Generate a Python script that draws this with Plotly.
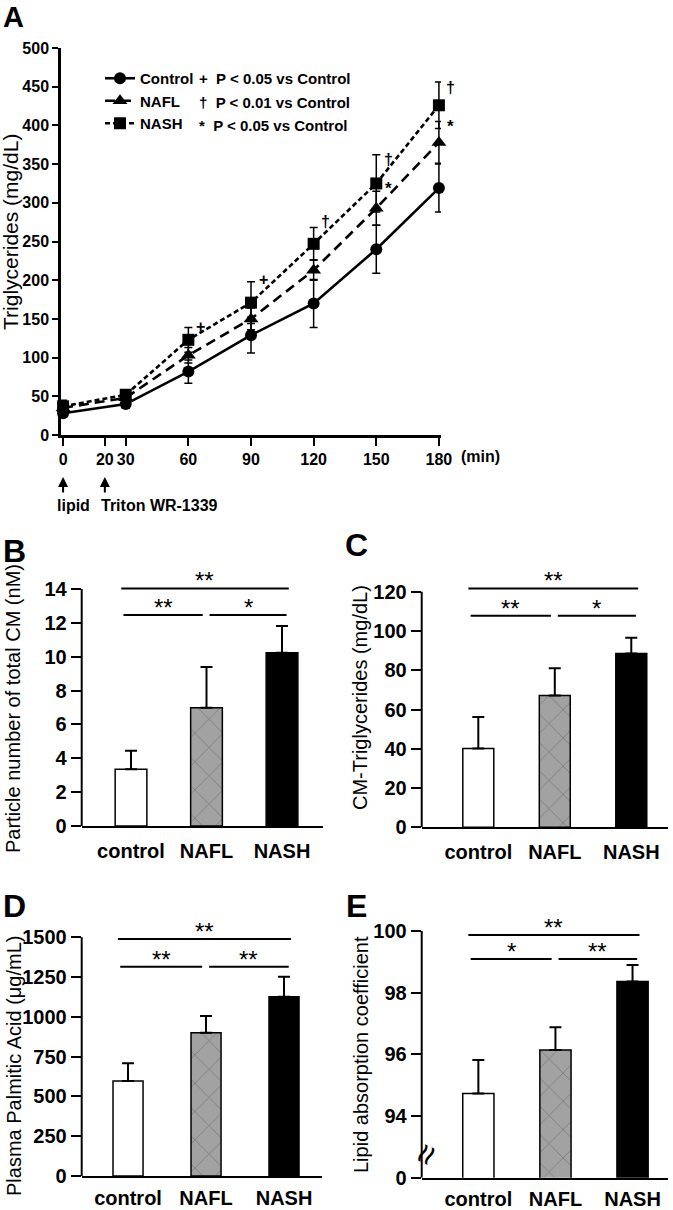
import plotly.graph_objects as go

W, H = 673, 1210
FONT = "Liberation Sans, Arial, Helvetica, sans-serif"

# ---------------- data ----------------
time_min = [0, 30, 60, 90, 120, 150, 180]
control_tg = [28, 40, 82, 129, 170, 240, 319]
control_err = [5, 5, 15, 23, 31, 31, 31]
nafl_tg = [35, 48, 103, 150, 213, 293, 378]
nafl_err = [5, 5, 10, 14, 13, 22, 27]
nash_tg = [37, 52, 123, 171, 247, 325, 426]
nash_err = [8, 6, 16, 27, 21, 37, 30]
series_names = ["Control", "NAFL", "NASH"]

a_xticks = [0, 20, 30, 60, 90, 120, 150, 180]
a_yticks = [0, 50, 100, 150, 200, 250, 300, 350, 400, 450, 500]

mark_time = [60, 90, 120, 150, 180, 150, 180]
mark_value = [140, 201, 276, 356, 449, 319, 398]
mark_text = ["+", "+", "†", "†", "†", "*", "*"]

legend_notes = ["+  P < 0.05 vs Control", "†  P < 0.01 vs Control", "*  P < 0.05 vs Control"]

groups = ["control", "NAFL", "NASH"]
cm_particle = [3.35, 6.99, 10.24]
cm_particle_sd = [1.10, 2.40, 1.57]
cm_tg = [40.2, 67.2, 88.6]
cm_tg_sd = [16.0, 13.8, 8.0]
palmitic = [597, 901, 1127]
palmitic_sd = [111, 105, 126]
lac = [94.73, 96.14, 98.36]
lac_sd = [1.09, 0.74, 0.54]

b_yticks = [0, 2, 4, 6, 8, 10, 12, 14]
c_yticks = [0, 20, 40, 60, 80, 100, 120]
d_yticks = [0, 250, 500, 750, 1000, 1250, 1500]
e_yticks = [92, 94, 96, 98, 100]
e_ticktext = ["0", "94", "96", "98", "100"]

b_sig = [14.03, 12.46]
c_sig = [121.7, 107.8]
d_sig = [1490, 1316]
e_sig = [99.87, 99.09]
b_stars = ["**", "**", "*"]
c_stars = ["**", "**", "*"]
d_stars = ["**", "**", "**"]
e_stars = ["**", "*", "**"]
sig_span_top = [-0.13, 2.09]
sig_span_left = [-0.10, 0.95]
sig_span_right = [1.04, 2.06]

bar_colors = ["white", "#a2a2a2", "black"]
bar_patterns = ["", "x", ""]


def px(x):
    return x / W


def py(y):
    return 1 - y / H


def bfont(size, bold=True):
    d = dict(family=FONT, size=size, color="black")
    if bold:
        d["weight"] = "bold"
    return d


def text_ann(x, y, text, size, bold=True, xanchor="center", angle=0):
    return dict(x=px(x), y=py(y), xref="paper", yref="paper", text=text,
                xanchor=xanchor, yanchor="middle", textangle=angle,
                showarrow=False, font=bfont(size, bold))


fig = go.Figure()

# ---------------- Panel A ----------------
styles = [
    dict(dash="solid", symbol="circle", size=12),
    dict(dash="10px,6px", symbol="triangle-up", size=13),
    dict(dash="5px,3px", symbol="square", size=12),
]
for name, vals, errs, st in zip(series_names, [control_tg, nafl_tg, nash_tg],
                                [control_err, nafl_err, nash_err], styles):
    fig.add_trace(go.Scatter(
        x=time_min, y=vals, name=name, mode="lines+markers",
        line=dict(color="black", width=2.6, dash=st["dash"]),
        marker=dict(color="black", size=st["size"], symbol=st["symbol"]),
        error_y=dict(type="data", array=errs, visible=True, color="black",
                     thickness=1.5, width=4),
        cliponaxis=False, xaxis="x", yaxis="y", showlegend=True,
    ))

fig.update_layout(
    xaxis=dict(domain=[px(61.0), px(441.0)], range=[-1, 181], anchor="y",
               tickvals=a_xticks, ticktext=[str(t) for t in a_xticks],
               ticks="outside", ticklen=8, tickwidth=2, tickcolor="black",
               showline=True, linecolor="black", linewidth=2.5,
               showgrid=False, zeroline=False, tickfont=bfont(16), automargin=False),
    yaxis=dict(domain=[py(435), py(48)], range=[0, 500], anchor="x",
               tickvals=a_yticks, ticks="outside", ticklen=6, tickwidth=2,
               tickcolor="black", showline=True, linecolor="black", linewidth=2.5,
               showgrid=False, zeroline=False, tickfont=bfont(16), automargin=False),
)

ann = []
for t, v, s in zip(mark_time, mark_value, mark_text):
    ann.append(dict(x=t, y=v, xref="x", yref="y", text=s, showarrow=False,
                    xanchor="center", yanchor="middle",
                    xshift=12, font=bfont(17 if s == "*" else 16)))

for i, note in enumerate(legend_notes):
    ann.append(text_ann(197, 78 + 24 * i, note, 15, xanchor="left"))

ann.append(text_ann(459, 457, "(min)", 16, xanchor="left"))
for t in [0, 20]:
    ann.append(dict(x=t, y=py(477), xref="x", yref="paper", text="", showarrow=True,
                    ax=0, ay=17, arrowhead=2, arrowsize=1, arrowwidth=2,
                    arrowcolor="black"))
ann.append(text_ann(73, 505, "lipid", 16))
ann.append(text_ann(99, 505, "Triton WR-1339", 16, xanchor="left"))
ann.append(text_ann(11, 232, "Triglycerides (mg/dL)", 21, bold=False, angle=-90))
ann.append(text_ann(13, 17, "A", 29))

# ---------------- Panels B-E ----------------
panels = [
    dict(ax=2, vals=cm_particle, sd=cm_particle_sd, yt=b_yticks, ytt=None,
         yr=[0, 15.5], ytop=14, ybot=0, xd=[81.7, 322.7], yd=[826, 563.6],
         xr=[-0.653, 2.539], bw=0.42, sig=b_sig, stars=b_stars, so=6,
         title="Particle number of total CM (nM)", tx=13, ty=709,
         letter="B", lx=14, ly=551),
    dict(ax=3, vals=cm_tg, sd=cm_tg_sd, yt=c_yticks, ytt=None,
         yr=[0, 132], ytop=120, ybot=0, xd=[421.7, 668], yd=[827.3, 568.2],
         xr=[-0.74, 2.48], bw=0.405, sig=c_sig, stars=c_stars, so=6,
         title="CM-Triglycerides (mg/dL)", tx=360, ty=698,
         letter="C", lx=356, ly=545),
    dict(ax=4, vals=palmitic, sd=palmitic_sd, yt=d_yticks, ytt=None,
         yr=[0, 1650], ytop=1500, ybot=0, xd=[81.7, 322], yd=[1176, 913.5],
         xr=[-0.594, 2.487], bw=0.385, sig=d_sig, stars=d_stars, so=3,
         title="Plasma Palmitic Acid (μg/mL)", tx=14, ty=1066,
         letter="D", lx=14, ly=906),
    dict(ax=5, vals=lac, sd=lac_sd, yt=e_yticks, ytt=e_ticktext,
         yr=[92, 100.9], ytop=100, ybot=92, xd=[421.7, 668], yd=[1177.7, 903.3],
         xr=[-0.735, 2.46], bw=0.405, sig=e_sig, stars=e_stars, so=2,
         title="Lipid absorption coefficient", tx=361, ty=1055,
         letter="E", lx=356, ly=906),
]

shapes = []
for p in panels:
    n = p["ax"]
    xa, ya = f"x{n}", f"y{n}"
    fig.add_trace(go.Bar(
        x=[0, 1, 2], y=p["vals"], width=p["bw"], xaxis=xa, yaxis=ya, showlegend=False,
        marker=dict(color=bar_colors, line=dict(color="black", width=1.5),
                    pattern=dict(shape=bar_patterns, fgcolor="#2a2a2a", size=20,
                                 solidity=0.07)),
        error_y=dict(type="data", symmetric=False, array=p["sd"], arrayminus=[0, 0, 0],
                     color="black", thickness=2, width=6),
    ))
    fig.layout[f"xaxis{n}"] = dict(
        domain=[px(p["xd"][0]), px(p["xd"][1])], range=p["xr"], anchor=ya,
        tickvals=[0, 1, 2], ticktext=groups, ticks="", showline=True,
        linecolor="black", linewidth=2, showgrid=False, zeroline=False,
        tickfont=bfont(20), automargin=False, ticklabelstandoff=p["so"])
    yax = dict(
        domain=[py(p["yd"][0]), py(p["yd"][1])], range=p["yr"], anchor=xa,
        tickvals=p["yt"], ticks="outside", ticklen=10, tickwidth=2, tickcolor="black",
        showline=False, showgrid=False, zeroline=False, tickfont=bfont(20),
        automargin=False)
    if p["ytt"] is not None:
        yax["ticktext"] = p["ytt"]
    fig.layout[f"yaxis{n}"] = yax
    # axis line up to top tick
    shapes.append(dict(type="line", xref=f"{xa} domain", yref=ya, x0=0, x1=0,
                       y0=p["ybot"], y1=p["ytop"], line=dict(color="black", width=2)))
    # significance brackets
    spans = [(sig_span_top, p["sig"][0]), (sig_span_left, p["sig"][1]),
             (sig_span_right, p["sig"][1])]
    for (span, lvl), star in zip(spans, p["stars"]):
        shapes.append(dict(type="line", xref=xa, yref=ya, x0=span[0], x1=span[1],
                           y0=lvl, y1=lvl, line=dict(color="black", width=2)))
        ann.append(dict(x=(span[0] + span[1]) / 2, y=lvl, xref=xa, yref=ya, text=star,
                        showarrow=False, xanchor="center", yanchor="bottom", yshift=-8,
                        font=dict(family=FONT, size=24, color="black")))
    ann.append(text_ann(p["tx"], p["ty"], p["title"], 20, bold=False, angle=-90))
    ann.append(text_ann(p["lx"], p["ly"], p["letter"], 32))

# axis break marker on panel E
ann.append(dict(x=0, y=92.75, xref="x5 domain", yref="y5", text="≈", textangle=-65,
                xanchor="center", yanchor="middle", showarrow=False, xshift=4,
                font=dict(family=FONT, size=36, color="black")))

fig.update_layout(
    width=W, height=H, margin=dict(l=0, r=0, t=0, b=0),
    paper_bgcolor="white", plot_bgcolor="white",
    annotations=ann, shapes=shapes, barmode="overlay",
    legend=dict(x=px(100), y=py(62), xanchor="left", yanchor="top",
                bgcolor="rgba(0,0,0,0)", font=bfont(15), tracegroupgap=0,
                itemwidth=30),
    font=dict(family=FONT, color="black"),
)

fig.write_html("out.html", config={"displayModeBar": False},
               post_script="document.body.style.margin='0';document.body.style.padding='0';")
